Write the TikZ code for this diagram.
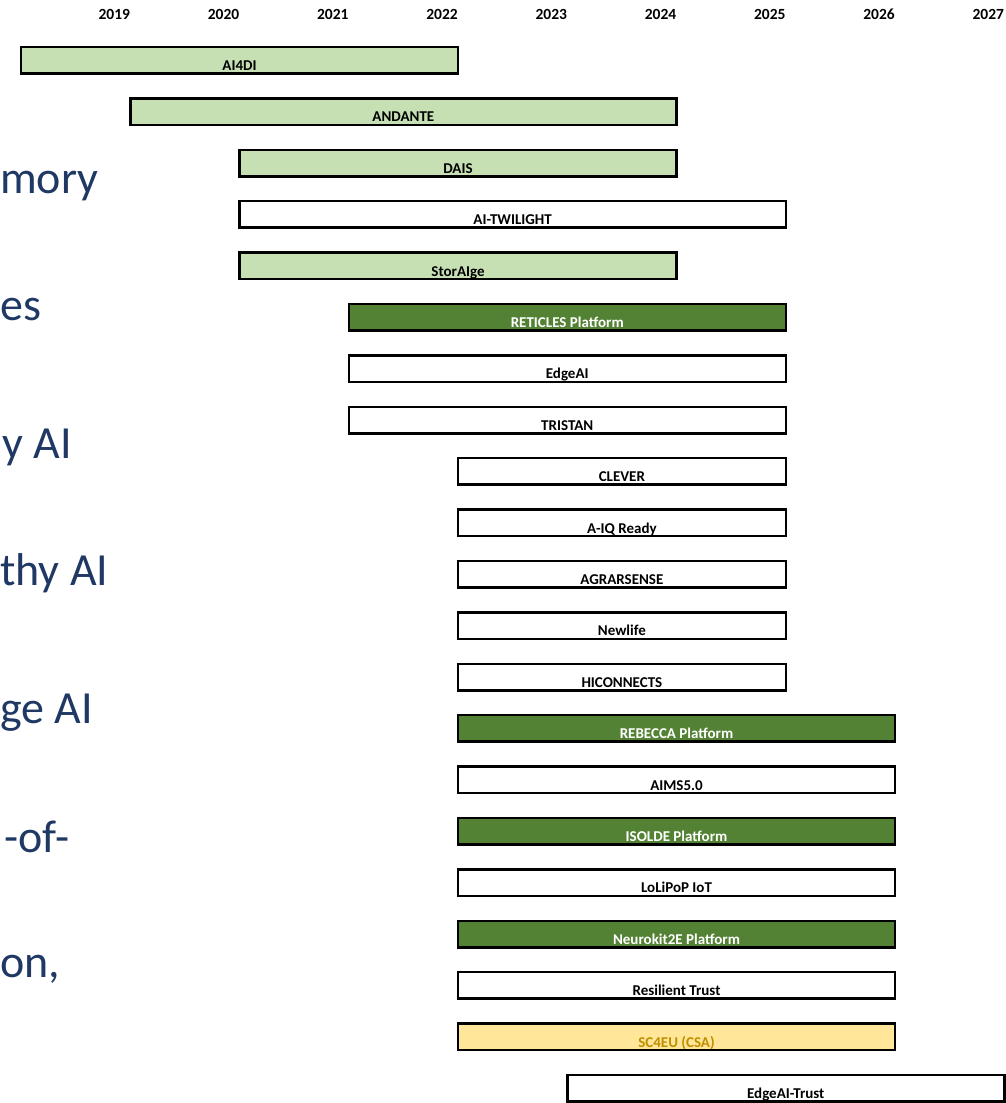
\documentclass[tikz,border=0pt]{standalone}
\usepackage{fontspec}
\setmainfont{Carlito}
\usepackage{tikz}
\usetikzlibrary{positioning}

\definecolor{litegreen}{RGB}{198,224,180}
\definecolor{darkgreen}{RGB}{84,130,53}
\definecolor{paleyellow}{RGB}{255,230,153}
\definecolor{ochre}{RGB}{191,143,0}
\definecolor{slideblue}{RGB}{31,56,100}

\tikzset{
  year/.style={anchor=base east, inner sep=0pt, font=\bfseries\fontsize{15.5}{15.5}\selectfont},
  slide/.style={inner sep=0pt, text=slideblue, font=\fontsize{46}{46}\selectfont},
  bar/.style={draw=black, line width=2.5pt, inner sep=0pt, text height=23.5pt, text depth=3pt,
              font=\bfseries\fontsize{15}{15}\selectfont},
  whitebar/.style={bar, fill=white},
  litebar/.style={bar, fill=litegreen},
  platbar/.style={bar, fill=darkgreen, text=white},
  csabar/.style={bar, fill=paleyellow, text=ochre}
}

\begin{document}
\begin{tikzpicture}[x=1pt,y=-1pt]
   \useasboundingbox (0,0) rectangle (1006,1103);

   % years
   \draw (130.25,19) node[year] (y2019) {2019};
   \draw (239.5,19) node[year] (y2020) {2020};
   \draw (348.75,19) node[year] (y2021) {2021};
   \draw (458,19) node[year] (y2022) {2022};
   \draw (567.25,19) node[year] (y2023) {2023};
   \draw (676.5,19) node[year] (y2024) {2024};
   \draw (785.75,19) node[year] (y2025) {2025};
   \draw (895,19) node[year] (y2026) {2026};
   \draw (1004.25,19) node[year] (y2027) {2027};

   % cut-off slide text
   \draw (0,193) node[slide, anchor=base west] (mory) {mory};
   \draw (0,320) node[slide, anchor=base west] (es) {es};
   \draw (2,458) node[slide, anchor=base west] (yai) {y AI};
   \draw (0,585) node[slide, anchor=base west] (thyai) {thy AI};
   \draw (0,723) node[slide, anchor=base west] (geai) {ge AI};
   \draw (4,852) node[slide, anchor=base west] (of) {-of-};
   \draw (0,977) node[slide, anchor=base west] (on) {on,};

   % projects
   \draw (239.5,60.25) node[litebar, minimum width=437pt] (AI4DI) {AI4DI};
   \draw (403.375,111.65) node[litebar, minimum width=546.25pt] (ANDANTE) {ANDANTE};
   \draw (458,163.05) node[litebar, minimum width=437pt] (DAIS) {DAIS};
   \draw (512.625,214.45) node[whitebar, minimum width=546.25pt] (AI-TWILIGHT) {AI-TWILIGHT};
   \draw (458,265.85) node[litebar, minimum width=437pt] (StorAIge) {StorAIge};
   \draw (567.25,317.25) node[platbar, minimum width=437pt] (RETICLES) {RETICLES Platform};
   \draw (567.25,368.65) node[whitebar, minimum width=437pt] (EdgeAI) {EdgeAI};
   \draw (567.25,420.05) node[whitebar, minimum width=437pt] (TRISTAN) {TRISTAN};
   \draw (621.875,471.45) node[whitebar, minimum width=327.75pt] (CLEVER) {CLEVER};
   \draw (621.875,522.85) node[whitebar, minimum width=327.75pt] (A-IQ) {A-IQ Ready};
   \draw (621.875,574.25) node[whitebar, minimum width=327.75pt] (AGRARSENSE) {AGRARSENSE};
   \draw (621.875,625.65) node[whitebar, minimum width=327.75pt] (Newlife) {Newlife};
   \draw (621.875,677.05) node[whitebar, minimum width=327.75pt] (HICONNECTS) {HICONNECTS};
   \draw (676.5,728.45) node[platbar, minimum width=437pt] (REBECCA) {REBECCA Platform};
   \draw (676.5,779.85) node[whitebar, minimum width=437pt] (AIMS) {AIMS5.0};
   \draw (676.5,831.25) node[platbar, minimum width=437pt] (ISOLDE) {ISOLDE Platform};
   \draw (676.5,882.65) node[whitebar, minimum width=437pt] (LoLiPoP) {LoLiPoP IoT};
   \draw (676.5,934.05) node[platbar, minimum width=437pt] (Neurokit2E) {Neurokit2E Platform};
   \draw (676.5,985.45) node[whitebar, minimum width=437pt] (Resilient) {Resilient Trust};
   \draw (676.5,1036.85) node[csabar, minimum width=437pt] (SC4EU) {SC4EU (CSA)};
   \draw (785.75,1088.25) node[whitebar, minimum width=437pt] (EdgeAI-Trust) {EdgeAI-Trust};
\end{tikzpicture}
\end{document}
